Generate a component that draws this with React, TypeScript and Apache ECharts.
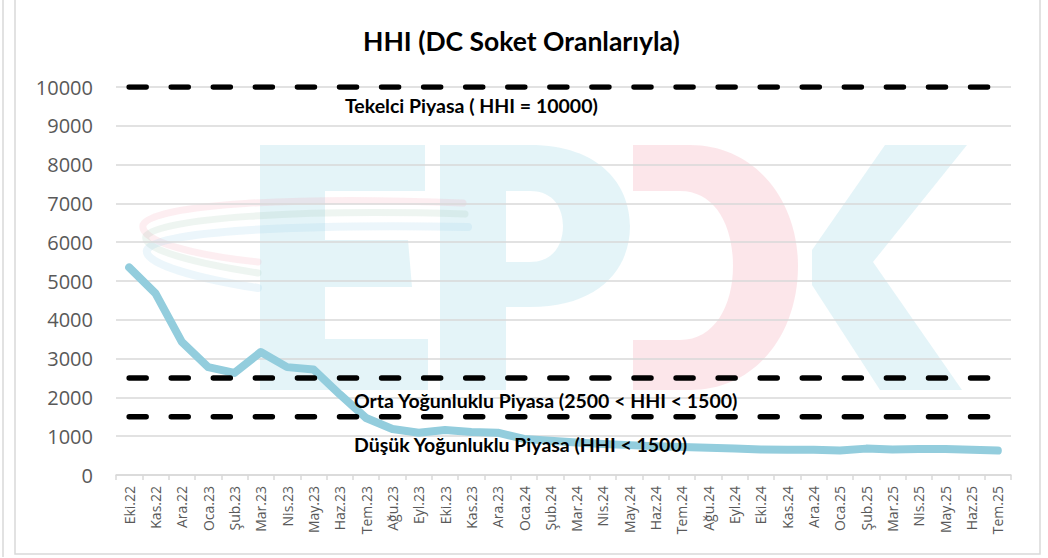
import React, { useEffect, useRef } from "react";
import * as echarts from "echarts";

const months: string[] = [
  "Eki.22", "Kas.22", "Ara.22", "Oca.23", "Şub.23", "Mar.23", "Nis.23", "May.23", "Haz.23", "Tem.23",
  "Ağu.23", "Eyl.23", "Eki.23", "Kas.23", "Ara.23", "Oca.24", "Şub.24", "Mar.24", "Nis.24", "May.24",
  "Haz.24", "Tem.24", "Ağu.24", "Eyl.24", "Eki.24", "Kas.24", "Ara.24", "Oca.25", "Şub.25", "Mar.25",
  "Nis.25", "May.25", "Haz.25", "Tem.25",
];

const hhiValues: number[] = [
  5350, 4680, 3430, 2780, 2630, 3170, 2780, 2720, 2080, 1470,
  1185, 1090, 1160, 1110, 1090, 930, 880, 840, 800, 770,
  740, 720, 700, 680, 660, 650, 650, 630, 680, 660,
  670, 670, 650, 630,
];

const thresholdMonopoly = 10000;
const thresholdMid = 2500;
const thresholdLow = 1500;

const yTicks = { min: 0, max: 10000, interval: 1000 };

const titleText = "HHI (DC Soket Oranlarıyla)";
const labelMonopoly = "Tekelci Piyasa ( HHI = 10000)";
const labelMid = "Orta Yoğunluklu Piyasa (2500 < HHI < 1500)";
const labelLow = "Düşük Yoğunluklu Piyasa (HHI < 1500)";

const pathE =
  "M260,145 L425,145 L425,191 L325,191 L325,240 L408,240 L412,287 L325,287 L325,339 L428,339 L428,390 L260,390 Z";
const pathP =
  "M440,145 L530,145 C600,145 630,185 630,226 C630,270 598,307 530,307 L506,307 L506,390 L440,390 Z " +
  "M506,191 L506,262 L530,262 C553,262 563,245 563,226 C563,210 555,191 530,191 Z";
const pathD =
  "M633,145 L690,145 C755,145 798,200 798,266 C798,335 755,390 690,390 L633,390 L633,340 L680,340 C715,340 733,305 733,266 C733,225 715,191 680,191 L633,191 Z";
const pathK =
  "M812,250 L885,145 L967,145 L873,262 L962,390 L880,390 L812,285 Z";
const swPink = "M463,203 C300,196 152,204 143,225 C139,242 200,256 258,262";
const swGreen = "M465,214 C300,209 160,218 146,236 C141,250 200,264 258,273";
const swBlue = "M468,227 C300,224 155,231 147,250 C143,264 200,279 258,288";

let shapesRegistered = false;
function registerShapes() {
  if (shapesRegistered) return;
  shapesRegistered = true;
  const reg = (name: string, d: string) =>
    echarts.graphic.registerShape(name, (echarts.graphic as any).extendPath(d, {}));
  reg("wmE", pathE);
  reg("wmP", pathP);
  reg("wmD", pathD);
  reg("wmK", pathK);
  reg("wmSwPink", swPink);
  reg("wmSwGreen", swGreen);
  reg("wmSwBlue", swBlue);
}

export default function App() {
  const ref = useRef<HTMLDivElement>(null);
  useEffect(() => {
    if (!ref.current) return;
    registerShapes();
    const chart = echarts.init(ref.current, undefined, { renderer: "svg" });
    const constLine = (v: number) => months.map(() => v);
    const dashStyle = {
      color: "#000000",
      width: 5.5,
      type: [17, 25.07] as any,
      cap: "round" as any,
    };
    const wm = (shape: string, fill: string) => ({
      type: shape,
      x: 0,
      y: 0,
      z: -10,
      silent: true,
      style: { fill, stroke: null },
    });
    const sw = (shape: string, stroke: string, w: number) => ({
      type: shape,
      x: 0,
      y: 0,
      z: -9,
      silent: true,
      style: { fill: null, stroke, lineWidth: w, lineCap: "round" },
    });
    const annot = (text: string, x: number, y: number) => ({
      type: "text",
      x,
      y,
      z: 100,
      style: {
        text,
        fill: "#000000",
        font: "bold 19.5px Lato, 'Open Sans', sans-serif",
        textVerticalAlign: "middle",
        verticalAlign: "middle",
      },
    });
    chart.setOption({
      animation: false,
      backgroundColor: "#ffffff",
      title: {
        text: titleText,
        left: 358,
        top: 22,
        textStyle: {
          fontFamily: "Lato, 'Open Sans', sans-serif",
          fontWeight: "bold",
          fontSize: 26.5,
          color: "#000000",
        },
      },
      grid: { left: 116, right: 37, top: 87, bottom: 83, containLabel: false },
      xAxis: {
        type: "category",
        data: months,
        boundaryGap: true,
        axisLine: { show: true, lineStyle: { color: "#D9D9D9", width: 1.5 } },
        axisTick: { show: true, interval: 0, length: 5, lineStyle: { color: "#D9D9D9", width: 1.5 } },
        axisLabel: {
          interval: 0,
          rotate: 90,
          margin: 11,
          color: "#595959",
          fontFamily: "'Open Sans', sans-serif",
          fontSize: 14,
        },
        splitLine: { show: false },
      },
      yAxis: {
        type: "value",
        min: yTicks.min,
        max: yTicks.max,
        interval: yTicks.interval,
        axisLine: { show: false },
        axisTick: { show: false },
        axisLabel: {
          margin: 23,
          color: "#595959",
          fontFamily: "'Open Sans', sans-serif",
          fontSize: 20,
          formatter: (v: number) => String(v),
        },
        splitLine: { show: true, lineStyle: { color: "#D9D9D9", width: 1.5 } },
      },
      series: [
        {
          name: "HHI",
          type: "line",
          data: hhiValues,
          symbol: "none",
          z: 3,
          lineStyle: { color: "#93CDDD", width: 8, cap: "round", join: "round" },
        },
        {
          name: "Tekelci",
          type: "line",
          data: constLine(thresholdMonopoly),
          symbol: "none",
          z: 4,
          lineStyle: dashStyle,
        },
        {
          name: "Orta",
          type: "line",
          data: constLine(thresholdMid),
          symbol: "none",
          z: 4,
          lineStyle: dashStyle,
        },
        {
          name: "Dusuk",
          type: "line",
          data: constLine(thresholdLow),
          symbol: "none",
          z: 4,
          lineStyle: dashStyle,
        },
      ],
      graphic: [
        wm("wmE", "rgba(165,218,232,0.3)"),
        wm("wmP", "rgba(165,218,232,0.3)"),
        wm("wmD", "rgba(245,172,185,0.3)"),
        wm("wmK", "rgba(165,218,232,0.3)"),
        sw("wmSwPink", "rgba(240,150,165,0.16)", 7),
        sw("wmSwGreen", "rgba(150,195,170,0.16)", 7),
        sw("wmSwBlue", "rgba(150,205,235,0.18)", 8),
        annot(labelMonopoly, 345, 105),
        annot(labelMid, 354, 400),
        annot(labelLow, 354, 444),
        {
          type: "rect",
          z: 200,
          silent: true,
          shape: { x: 15, y: -2, width: 1025, height: 556 },
          style: { fill: null, stroke: "#D9D9D9", lineWidth: 1.5 },
        },
        {
          type: "line",
          z: 200,
          silent: true,
          shape: { x1: 3, y1: -2, x2: 3, y2: 557 },
          style: { stroke: "#D9D9D9", lineWidth: 1.5 },
        },
      ],
    });
    return () => chart.dispose();
  }, []);
  return (
    <div
      ref={ref}
      style={{ position: "absolute", left: 0, top: 0, width: 1048, height: 558 }}
    />
  );
}
